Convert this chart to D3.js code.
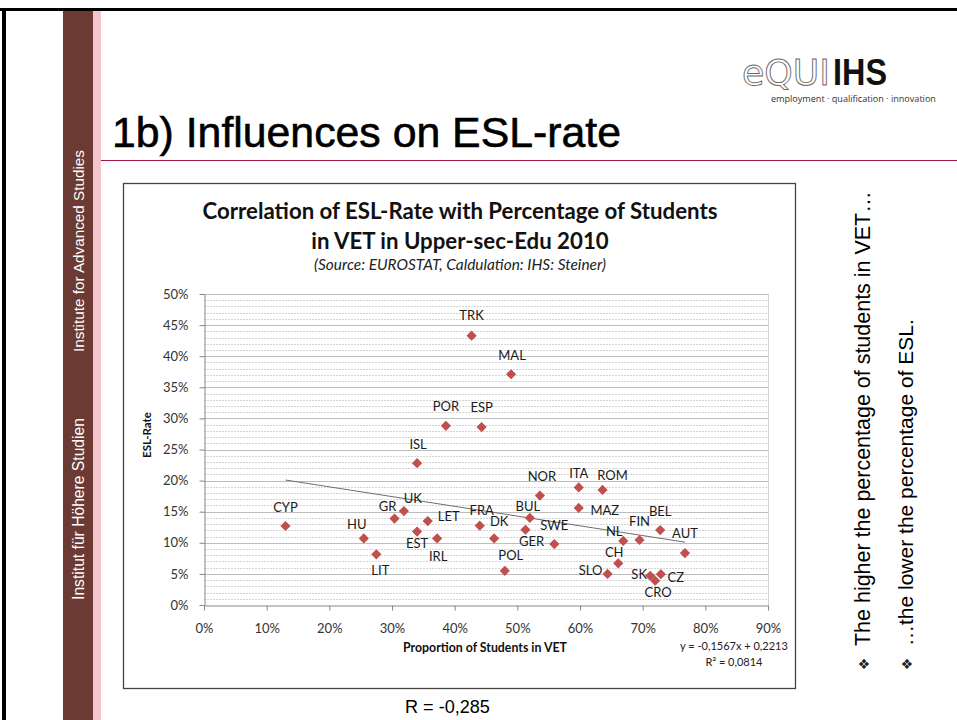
<!DOCTYPE html>
<html lang="en">
<head>
  <meta charset="UTF-8">
  <title>1b) Influences on ESL-rate</title>
  <style>
    html,
    body {
      margin: 0;
      padding: 0;
      background: #fff;
    }

    svg {
      display: block;
    }

    .chart-text {
      font-family: Lato, "Open Sans", sans-serif;
    }

    .slide-text {
      font-family: "Liberation Sans", Arial, sans-serif;
    }
  </style>
</head>
<body>
<div id="slide"></div>

<script src="https://d3js.org/d3.v7.min.js"></script>
<script>
  // data (shares in %)
  const countries = ['CYP', 'HU', 'LIT', 'GR', 'UK', 'ISL', 'EST', 'LET', 'IRL', 'POR', 'TRK',
    'FRA', 'ESP', 'DK', 'POL', 'MAL', 'GER', 'BUL', 'NOR', 'SWE', 'ITA', 'MAZ', 'ROM',
    'SLO', 'CH', 'NL', 'FIN', 'SK', 'CRO', 'BEL', 'CZ', 'AUT'];
  const vetShare = [13.0, 25.5, 27.5, 30.4, 31.9, 34.0, 34.0, 35.7, 37.2, 38.6, 42.7,
    44.0, 44.3, 46.3, 48.0, 49.0, 51.3, 52.0, 53.6, 55.9, 59.8, 59.8, 63.6,
    64.4, 66.1, 66.9, 69.5, 71.2, 72.0, 72.8, 72.9, 76.75];
  const eslRate = [12.7, 10.7, 8.15, 13.9, 15.1, 22.8, 11.8, 13.5, 10.7, 28.8, 43.3,
    12.75, 28.6, 10.7, 5.5, 37.1, 12.1, 14.0, 17.6, 9.8, 18.9, 15.6, 18.5,
    5.0, 6.7, 10.3, 10.45, 4.7, 3.9, 12.05, 4.95, 8.35];

  const xTicks = [0, 10, 20, 30, 40, 50, 60, 70, 80, 90];
  const yTicks = [0, 5, 10, 15, 20, 25, 30, 35, 40, 45, 50];

  // trendline as printed on the chart
  const trendSlope = -0.1567;
  const trendIntercept = 0.2213;
  const trendLabel = ['y = -0,1567x + 0,2213', 'R² = 0,0814'];
  const correlationLabel = 'R = -0,285';

  const chartTitle = ['Correlation of ESL-Rate with Percentage of Students', 'in VET in Upper-sec-Edu 2010'];
  const chartSource = '(Source: EUROSTAT, Caldulation: IHS: Steiner)';
  const bullets = ['The higher the percentage of students in VET…', '…the lower the percentage of ESL.'];

  // where each data label sits relative to its marker (px)
  const labelNudge = {
    TRK: [0, -20], POR: [0, -20], ESP: [0, -20], ISL: [1, -19], CYP: [0, -19],
    GR: [-7, -12], UK: [9, -13], LET: [21, -5], HU: [-7, -14], EST: [0, 12],
    IRL: [1, 18], LIT: [4, 16], FRA: [2, -15], MAL: [1, -19], NOR: [2, -19],
    ITA: [0, -14], ROM: [10, -15], MAZ: [26, 2], BUL: [-2, -12], DK: [5, -17],
    SWE: [0, -19], GER: [6, 12], POL: [6, -15], NL: [-9, -10], FIN: [0, -19],
    BEL: [0, -19], AUT: [0, -20], CH: [-4, -11], SLO: [-17, -4], SK: [-11, -1],
    CZ: [15, 3], CRO: [3, 12],
  };

  const points = countries.map((c, i) => ({ id: c, x: vetShare[i], y: eslRate[i] }));

  const width = 957;
  const height = 720;

  const svg = d3.select('#slide').append('svg')
    .attr('width', width)
    .attr('height', height)
    .attr('viewBox', [0, 0, width, height]);

  // scale font so that a text fills a given width
  const fitWidth = (sel, w) => {
    const len = sel.node().getComputedTextLength();
    const fs = parseFloat(sel.attr('font-size'));
    sel.attr('font-size', (fs * w / len).toFixed(2));
    return sel;
  };

  // ---- slide frame ----
  svg.append('rect').attr('x', 0).attr('y', 8).attr('width', width).attr('height', 3).attr('fill', '#000');
  svg.append('rect').attr('x', 2).attr('y', 8).attr('width', 4).attr('height', height).attr('fill', '#000');
  svg.append('rect').attr('x', 63).attr('y', 11).attr('width', 30).attr('height', height).attr('fill', '#6b3a33');
  svg.append('rect').attr('x', 93).attr('y', 11).attr('width', 8).attr('height', height).attr('fill', '#f3c5cc');

  const sideText = (txt, cy, w) => {
    const t = svg.append('text')
      .attr('class', 'slide-text')
      .attr('transform', `translate(84,${cy}) rotate(-90)`)
      .attr('text-anchor', 'middle')
      .attr('font-size', 14)
      .attr('fill', '#fff')
      .text(txt);
    fitWidth(t, w);
  };
  sideText('Institute for Advanced Studies', 251, 202);
  sideText('Institut für Höhere Studien', 509, 182);

  // title + rule
  const title = svg.append('text')
    .attr('class', 'slide-text')
    .attr('x', 112)
    .attr('y', 147)
    .attr('font-size', 36)
    .attr('fill', '#000')
    .attr('stroke', '#000')
    .attr('stroke-width', 0.6)
    .text('1b) Influences on ESL-rate');
  fitWidth(title, 509);
  svg.append('line')
    .attr('x1', 101).attr('x2', width)
    .attr('y1', 160.5).attr('y2', 160.5)
    .attr('stroke', '#9e1b3d')
    .attr('stroke-width', 1.2);

  // logo
  const logo = svg.append('g').attr('class', 'logo');
  logo.append('text')
    .attr('x', 742).attr('y', 85)
    .attr('font-family', '"DejaVu Sans", sans-serif')
    .attr('font-size', 36)
    .attr('fill', '#fff')
    .attr('stroke', '#666')
    .attr('stroke-width', 0.9)
    .attr('textLength', 88)
    .attr('lengthAdjust', 'spacingAndGlyphs')
    .text('eQUI');
  logo.append('text')
    .attr('x', 833).attr('y', 85)
    .attr('font-family', '"Liberation Sans", Arial, sans-serif')
    .attr('font-weight', 'bold')
    .attr('font-size', 36)
    .attr('fill', '#111')
    .attr('textLength', 54)
    .attr('lengthAdjust', 'spacingAndGlyphs')
    .text('IHS');
  const tag = logo.append('text')
    .attr('x', 771).attr('y', 102)
    .attr('font-family', '"Open Sans", sans-serif')
    .attr('font-size', 8)
    .attr('fill', '#333')
    .text('employment · qualification · innovation');
  fitWidth(tag, 165);

  // ---- chart box ----
  svg.append('rect')
    .attr('x', 123.5).attr('y', 183.5)
    .attr('width', 672).attr('height', 505)
    .attr('fill', '#fff')
    .attr('stroke', '#444')
    .attr('stroke-width', 1.3);

  const t1 = svg.append('text')
    .attr('class', 'chart-text')
    .attr('x', 460).attr('y', 219)
    .attr('text-anchor', 'middle')
    .attr('font-weight', 'bold')
    .attr('font-size', 19)
    .attr('fill', '#111')
    .text(chartTitle[0]);
  fitWidth(t1, 515);
  svg.append('text')
    .attr('class', 'chart-text')
    .attr('x', 460).attr('y', 249)
    .attr('text-anchor', 'middle')
    .attr('font-weight', 'bold')
    .attr('font-size', t1.attr('font-size'))
    .attr('fill', '#111')
    .text(chartTitle[1]);
  const t3 = svg.append('text')
    .attr('class', 'chart-text')
    .attr('x', 460).attr('y', 270)
    .attr('text-anchor', 'middle')
    .attr('font-style', 'italic')
    .attr('font-size', 12)
    .attr('fill', '#222')
    .text(chartSource);
  fitWidth(t3, 292);

  // ---- plot ----
  const x = d3.scaleLinear().domain([0, 90]).range([204, 768]);
  const y = d3.scaleLinear().domain([0, 50]).range([605, 294]);

  const grid = svg.append('g');
  const minor = d3.range(1, 50).filter(v => v % 5 !== 0);
  grid.selectAll('line.minor')
    .data(minor)
    .join('line')
    .attr('class', 'minor')
    .attr('x1', x(0)).attr('x2', x(90))
    .attr('y1', d => Math.round(y(d)) + 0.5)
    .attr('y2', d => Math.round(y(d)) + 0.5)
    .attr('stroke', '#d4d4d4')
    .attr('stroke-dasharray', '2,1');
  grid.selectAll('line.major')
    .data(yTicks.filter(v => v > 0))
    .join('line')
    .attr('class', 'major')
    .attr('x1', x(0)).attr('x2', x(90))
    .attr('y1', d => Math.round(y(d)) + 0.5)
    .attr('y2', d => Math.round(y(d)) + 0.5)
    .attr('stroke', '#bdbdbd');
  grid.append('line')
    .attr('x1', x(90) + 0.5).attr('x2', x(90) + 0.5)
    .attr('y1', y(50)).attr('y2', y(0))
    .attr('stroke', '#d4d4d4');

  const styleAxis = g => {
    g.selectAll('.domain, .tick line').attr('stroke', '#868686');
    g.selectAll('.tick text')
      .attr('class', 'chart-text')
      .attr('font-size', 13)
      .attr('fill', '#333');
    g.attr('font-family', null);
  };

  svg.append('g')
    .attr('transform', `translate(${x(0) + 0.5},0)`)
    .call(d3.axisLeft(y).tickValues(yTicks).tickFormat(d => d + '%').tickSize(5).tickSizeOuter(0).tickPadding(11))
    .call(styleAxis);

  svg.append('g')
    .attr('transform', `translate(0,${y(0) + 0.5})`)
    .call(d3.axisBottom(x).tickValues(xTicks).tickFormat(d => d + '%').tickSize(5).tickSizeOuter(0).tickPadding(13))
    .call(styleAxis);

  // axis titles
  svg.append('text')
    .attr('class', 'chart-text')
    .attr('transform', `translate(151,435) rotate(-90)`)
    .attr('text-anchor', 'middle')
    .attr('font-weight', 'bold')
    .attr('font-size', 10)
    .attr('fill', '#111')
    .text('ESL-Rate')
    .call(s => fitWidth(s, 46));
  svg.append('text')
    .attr('class', 'chart-text')
    .attr('x', 485).attr('y', 652)
    .attr('text-anchor', 'middle')
    .attr('font-weight', 'bold')
    .attr('font-size', 11)
    .attr('fill', '#111')
    .text('Proportion of Students in VET')
    .call(s => fitWidth(s, 164));

  // trendline between the extreme x values
  const [xMin, xMax] = d3.extent(points, d => d.x);
  const trend = v => (trendSlope * v / 100 + trendIntercept) * 100;
  svg.append('line')
    .attr('x1', x(xMin)).attr('y1', y(trend(xMin)))
    .attr('x2', x(xMax)).attr('y2', y(trend(xMax)))
    .attr('stroke', '#6e6e6e')
    .attr('stroke-width', 1);

  svg.append('g')
    .selectAll('text')
    .data(trendLabel)
    .join('text')
    .attr('class', 'chart-text')
    .attr('x', 734)
    .attr('y', (d, i) => 650 + i * 16)
    .attr('text-anchor', 'middle')
    .attr('font-size', 11)
    .attr('fill', '#222')
    .text(d => d);

  // markers
  const diamond = d3.symbol(d3.symbolSquare, 52);
  svg.append('g')
    .selectAll('path')
    .data(points)
    .join('path')
    .attr('d', diamond)
    .attr('transform', d => `translate(${x(d.x)},${y(d.y)}) rotate(45)`)
    .attr('fill', '#c0504d');

  svg.append('g')
    .selectAll('text')
    .data(points)
    .join('text')
    .attr('class', 'chart-text')
    .attr('x', d => x(d.x) + (labelNudge[d.id] || [0, -19])[0])
    .attr('y', d => y(d.y) + (labelNudge[d.id] || [0, -19])[1])
    .attr('dy', '0.36em')
    .attr('text-anchor', 'middle')
    .attr('font-size', 13)
    .attr('fill', '#1a1a1a')
    .text(d => d.id);

  // ---- notes outside the chart ----
  svg.append('text')
    .attr('class', 'slide-text')
    .attr('x', 405).attr('y', 713)
    .attr('font-size', 17)
    .attr('fill', '#000')
    .text(correlationLabel)
    .call(s => fitWidth(s, 85));

  const bulletX = [869, 912];
  const bulletLen = [455, 327];
  bullets.forEach((b, i) => {
    svg.append('text')
      .attr('transform', `translate(${bulletX[i]},664) rotate(-90)`)
      .attr('text-anchor', 'middle')
      .attr('font-family', '"DejaVu Sans", sans-serif')
      .attr('font-size', 14)
      .attr('fill', '#222')
      .text('❖');
    svg.append('text')
      .attr('class', 'slide-text')
      .attr('transform', `translate(${bulletX[i] + 1},646) rotate(-90)`)
      .attr('font-size', 19)
      .attr('fill', '#000')
      .text(b)
      .call(s => fitWidth(s, bulletLen[i]));
  });
</script>
</body>
</html>
